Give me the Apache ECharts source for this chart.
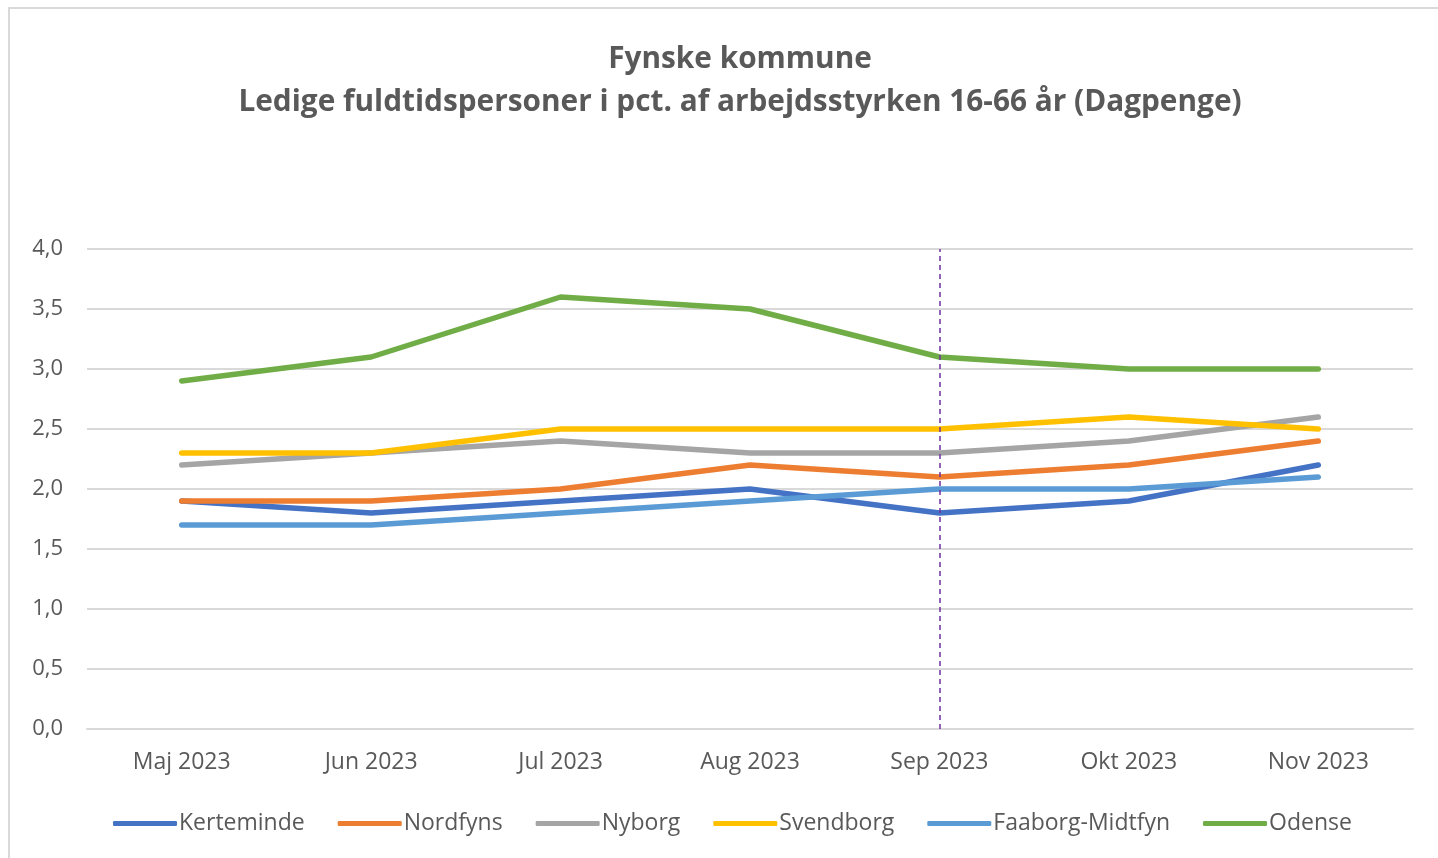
<!DOCTYPE html>
<html>
<head>
<meta charset="utf-8">
<script src="https://cdn.jsdelivr.net/npm/echarts@6/dist/echarts.min.js"></script>
<style>html,body{margin:0;padding:0;background:#fff}#c{width:1438px;height:858px}</style>
</head>
<body>
<div id="c"></div>
<script>
const categories = ['Maj 2023','Jun 2023','Jul 2023','Aug 2023','Sep 2023','Okt 2023','Nov 2023'];
const kerteminde = [1.9, 1.8, 1.9, 2.0, 1.8, 1.9, 2.2];
const nordfyns = [1.9, 1.9, 2.0, 2.2, 2.1, 2.2, 2.4];
const nyborg = [2.2, 2.3, 2.4, 2.3, 2.3, 2.4, 2.6];
const svendborg = [2.3, 2.3, 2.5, 2.5, 2.5, 2.6, 2.5];
const faaborg = [1.7, 1.7, 1.8, 1.9, 2.0, 2.0, 2.1];
const odense = [2.9, 3.1, 3.6, 3.5, 3.1, 3.0, 3.0];
const seriesNames = ['Kerteminde','Nordfyns','Nyborg','Svendborg','Faaborg-Midtfyn','Odense'];
const markerCategory = 'Sep 2023';

const colors = ['#4472C4','#ED7D31','#A5A5A5','#FFC000','#5B9BD5','#70AD47'];
const dataSets = [kerteminde, nordfyns, nyborg, svendborg, faaborg, odense];
const font = '"Open Sans", "Noto Sans", sans-serif';

const series = seriesNames.map((n, i) => ({
  name: n, type: 'line', data: dataSets[i], symbol: 'none',
  lineStyle: { width: 5.5, color: colors[i], cap: 'round', join: 'round' },
  itemStyle: { color: colors[i] },
  z: 3,
  animation: false
}));
series[0].markLine = {
  silent: true, symbol: 'none', animation: false,
  label: { show: false },
  lineStyle: { color: '#7030A0', type: [5, 4], width: 1.5 },
  data: [{ xAxis: markerCategory }]
};

const chart = echarts.init(document.getElementById('c'));
chart.setOption({
  animation: false,
  color: colors,
  title: {
    text: 'Fynske kommune\nLedige fuldtidspersoner i pct. af arbejdsstyrken 16-66 år (Dagpenge)',
    left: 735, top: 33, textAlign: 'center',
    textStyle: { fontFamily: font, fontSize: 29.8, fontWeight: 'bold', color: '#595959', lineHeight: 43 }
  },
  graphic: [{
    type: 'rect', shape: { x: 9, y: 8, width: 1440, height: 860 },
    style: { fill: 'none', stroke: '#D9D9D9', lineWidth: 2 }, silent: true
  }],
  grid: { left: 87, right: 25, top: 249, bottom: 129 },
  xAxis: {
    type: 'category', data: categories, boundaryGap: true,
    axisLine: { show: true, lineStyle: { color: '#D9D9D9', width: 2 } },
    axisTick: { show: false },
    axisLabel: { fontFamily: font, fontSize: 23, color: '#595959', margin: 22 }
  },
  yAxis: {
    type: 'value', min: 0, max: 4, interval: 0.5,
    axisLine: { show: false }, axisTick: { show: false },
    splitLine: { lineStyle: { color: '#D9D9D9', width: 2 } },
    axisLabel: { fontFamily: font, fontSize: 22, color: '#595959', margin: 24,
      formatter: v => v.toFixed(1).replace('.', ',') }
  },
  legend: {
    data: seriesNames, bottom: 18, left: 108,
    icon: 'roundRect', itemWidth: 64, itemHeight: 5, itemGap: 33,
    textStyle: { fontFamily: font, fontSize: 23, color: '#595959', padding: [0, 0, 0, -3] }
  },
  series: series
});
</script>
</body>
</html>
